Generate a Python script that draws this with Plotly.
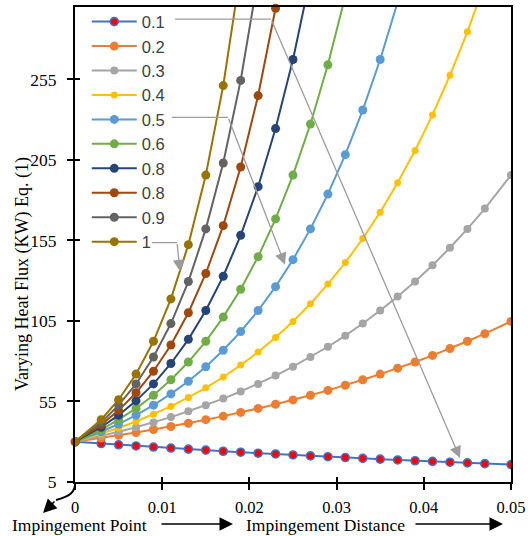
import plotly.graph_objects as go

# Impingement distance (m)
distance = [0, 0.003, 0.005, 0.007, 0.009, 0.011, 0.013, 0.015, 0.017, 0.019,
            0.021, 0.023, 0.025, 0.027, 0.029, 0.031, 0.033, 0.035, 0.037,
            0.039, 0.041, 0.043, 0.045, 0.047, 0.05]

series_names = ["0.1", "0.2", "0.3", "0.4", "0.5", "0.6", "0.8", "0.8", "0.9", "1"]

flux_01 = [30.0, 28.9, 28.1, 27.4, 26.7, 26.1, 25.4, 24.8, 24.1, 23.5, 22.9, 22.4, 21.8,
           21.2, 20.7, 20.2, 19.7, 19.2, 18.7, 18.2, 17.8, 17.3, 16.9, 16.4, 15.8]
flux_02 = [30.0, 32.3, 34.0, 35.7, 37.6, 39.5, 41.5, 43.7, 45.9, 48.2, 50.7, 53.3, 56.0,
           58.9, 61.9, 65.1, 68.5, 72.0, 75.7, 79.5, 83.6, 87.9, 92.4, 97.1, 104.7]
flux_03 = [30.0, 33.6, 36.2, 39.0, 42.0, 45.3, 48.9, 52.7, 56.8, 61.2, 65.9, 71.1, 76.6,
           82.6, 89.0, 95.9, 103.4, 111.5, 120.2, 129.5, 139.6, 150.5, 162.2, 174.8, 195.6]
flux_04 = [30.0, 34.9, 38.5, 42.6, 47.1, 52.0, 57.5, 63.5, 70.2, 77.6, 85.7, 94.8, 104.7,
           115.7, 127.9, 141.3, 156.2, 172.6, 190.8, 210.9, 233.0, 257.6, 284.6, 314.6, 365.5]
flux_05 = [30.0, 36.2, 41.0, 46.5, 52.7, 59.7, 67.6, 76.6, 86.8, 98.4, 111.5, 126.3, 143.1,
           162.2, 183.8, 208.3, 236.0, 267.4, 303.0, 343.4, 389.1, 440.9, 499.6, 566.1, 682.9]
flux_06 = [30.0, 37.6, 43.7, 50.7, 58.9, 68.5, 79.5, 92.4, 107.4, 124.7, 144.9, 168.4, 195.6,
           227.3, 264.1, 306.8, 356.5, 414.1, 481.1, 559.0, 649.5, 754.6, 876.7, 1018.6, 1275.5]
flux_07 = [30.0, 39.0, 46.5, 55.4, 65.9, 78.6, 93.6, 111.5, 132.8, 158.2, 188.4, 224.5, 267.4,
           318.6, 379.5, 452.0, 538.5, 641.5, 764.2, 910.3, 1084.4, 1291.9, 1538.9, 1833.2, 2383.3]
flux_08 = [30.0, 40.5, 49.5, 60.4, 73.8, 90.1, 110.1, 134.5, 164.2, 200.6, 245.0, 299.2, 365.5,
           446.4, 545.2, 665.9, 813.4, 993.5, 1213.4, 1482.1, 1810.2, 2211.0, 2700.5, 3298.4, 4452.4]
flux_09 = [30.0, 42.0, 52.7, 65.9, 82.6, 103.4, 129.5, 162.2, 203.1, 254.4, 318.5, 398.9, 499.6,
           625.6, 783.5, 981.1, 1228.7, 1538.7, 1926.9, 2413.2, 3022.1, 3784.7, 4739.8, 5935.7, 8318.2]
flux_10 = [30.0, 43.7, 56.1, 72.0, 92.4, 118.7, 152.4, 195.6, 251.2, 322.5, 414.1, 531.8, 682.8,
           876.7, 1125.7, 1445.4, 1856.0, 2383.3, 3060.2, 3929.2, 5045.2, 6478.1, 8318.2, 10680.9, 15540.1]

x_ticks = [0, 0.01, 0.02, 0.03, 0.04, 0.05]
x_tick_labels = ["0", "0.01", "0.02", "0.03", "0.04", "0.05"]
y_ticks = [5, 55, 105, 155, 205, 255]
y_tick_labels = ["5", "55", "105", "155", "205", "255"]

all_flux = [flux_01, flux_02, flux_03, flux_04, flux_05,
            flux_06, flux_07, flux_08, flux_09, flux_10]
line_colors = ["#4472C4", "#ED7D31", "#A5A5A5", "#FFC000", "#5B9BD5",
               "#70AD47", "#264478", "#9E480E", "#636363", "#997300"]
marker_sizes = [8, 9, 8, 7, 9, 9, 9, 9, 9, 9]

SERIF = "Liberation Serif, Times New Roman, serif"
SANS = "Liberation Sans, Arial, sans-serif"

fig = go.Figure()

for i, (name, ys, col, ms) in enumerate(zip(series_names, all_flux, line_colors, marker_sizes)):
    if name == "0.1":
        marker = dict(size=ms, color="#FF0000", line=dict(color=col, width=1.6))
    else:
        marker = dict(size=ms, color=col)
    fig.add_trace(go.Scatter(
        x=distance, y=ys, name=name, mode="lines+markers",
        line=dict(color=col, width=2), marker=marker,
        # the second "0.8" curve has a point right at the top edge; keep its marker whole
        cliponaxis=(i != 7),
    ))

# empty trace so the overlay axes (inner tick marks) get drawn
fig.add_trace(go.Scatter(x=[], y=[], xaxis="x2", yaxis="y2",
                         showlegend=False, hoverinfo="skip"))

# plot-area geometry in pixels (used for placing decorations)
W, H = 528, 536
ML, MR, MT, MB = 75, 17, 7, 54
PW, PH = W - ML - MR, H - MT - MB


def paper(px, py):
    return (px - ML) / PW, (H - MB - py) / PH


axis_common = dict(showgrid=False, zeroline=False, tickcolor="black", tickwidth=2)

fig.update_layout(
    width=W, height=H,
    margin=dict(l=ML, r=MR, t=MT, b=MB, pad=0, autoexpand=False),
    paper_bgcolor="white", plot_bgcolor="white",
    showlegend=True,
    legend=dict(x=0.027, y=1.0055, xanchor="left", yanchor="top",
                bgcolor="rgba(0,0,0,0)", font=dict(family=SANS, size=16.5, color="#404040"),
                itemwidth=45, tracegroupgap=0),
    xaxis=dict(range=[0, 0.05], tickmode="array", tickvals=x_ticks, ticktext=x_tick_labels,
               ticks="outside", ticklen=6, showline=True, linecolor="black", linewidth=2,
               mirror=True, ticklabelstandoff=3,
               tickfont=dict(family=SERIF, size=16.5, color="black"), **axis_common),
    yaxis=dict(range=[5, 300], tickmode="array", tickvals=y_ticks, ticktext=y_tick_labels,
               ticks="outside", ticklen=6, showline=True, linecolor="black", linewidth=2,
               mirror=True, ticklabelstandoff=7,
               tickfont=dict(family=SERIF, size=17.5, color="black"), **axis_common),
    xaxis2=dict(overlaying="x", matches="x", anchor="y", side="bottom", tickmode="array",
                tickvals=x_ticks, ticks="inside", ticklen=5, showticklabels=False,
                showline=False, **axis_common),
    yaxis2=dict(overlaying="y", matches="y", anchor="x", side="left", tickmode="array",
                tickvals=y_ticks, ticks="inside", ticklen=5, showticklabels=False,
                showline=False, **axis_common),
)

annotations = []
shapes = []

# y-axis title
tx, ty = paper(23, 274)
annotations.append(dict(xref="paper", yref="paper", x=tx, y=ty, showarrow=False,
                        xanchor="center", yanchor="middle",
                        text="Varying Heat Flux (KW) Eq. (1)", textangle=-90,
                        font=dict(family=SERIF, size=18, color="black")))

# bottom captions with arrows
for label, cx in [("Impingement Point", 79), ("Impingement Distance", 325.5)]:
    lx, ly = paper(cx, 525)
    annotations.append(dict(xref="paper", yref="paper", x=lx, y=ly, showarrow=False,
                            xanchor="center", yanchor="middle",
                            text=label, font=dict(family=SERIF, size=17.5, color="black")))
for x0, x1 in [(160, 233), (414, 503)]:
    ax_, ay_ = paper(x1, 524)
    annotations.append(dict(xref="paper", yref="paper", x=ax_, y=ay_, text="",
                            showarrow=True, arrowhead=2, arrowsize=1.8, arrowwidth=1.5,
                            arrowcolor="black", ax=-(x1 - x0), ay=0, standoff=0))

# curved arrow from the origin toward the impingement point caption
p0 = paper(75, 482)
c1 = paper(76, 493)
c2 = paper(68, 497)
p1 = paper(56, 500)
shapes.append(dict(type="path", xref="paper", yref="paper",
                   path=f"M {p0[0]},{p0[1]} C {c1[0]},{c1[1]} {c2[0]},{c2[1]} {p1[0]},{p1[1]}",
                   line=dict(color="black", width=2)))
tip = paper(43, 513)
annotations.append(dict(xref="paper", yref="paper", x=tip[0], y=tip[1], text="",
                        showarrow=True, arrowhead=2, arrowsize=1.7, arrowwidth=1.6,
                        arrowcolor="black", ax=13, ay=-13, standoff=0))

# gray leader arrows from the legend to the curves (data coordinates)
GRAY = "#9c9c9c"
leaders = [
    # (start x, bend x, bend y, tip x, tip y)
    (0.01147, 0.02248, 292.5, 0.04415, 19.9),
    (0.01112, 0.01755, 231.5, 0.02408, 140.0),
    (0.00883, 0.0117, 153.7, 0.01204, 135.7),
]
for sx, bx, by, tx_, ty_ in leaders:
    shapes.append(dict(type="line", xref="x", yref="y", x0=sx, y0=by, x1=bx, y1=by,
                       line=dict(color=GRAY, width=1.3)))
    annotations.append(dict(xref="x", yref="y", axref="x", ayref="y",
                            x=tx_, y=ty_, ax=bx, ay=by, text="", showarrow=True,
                            arrowhead=2, arrowsize=1.8, arrowwidth=1.3,
                            arrowcolor=GRAY, standoff=0))

fig.update_layout(annotations=annotations, shapes=shapes)

fig.write_html("out.html")
